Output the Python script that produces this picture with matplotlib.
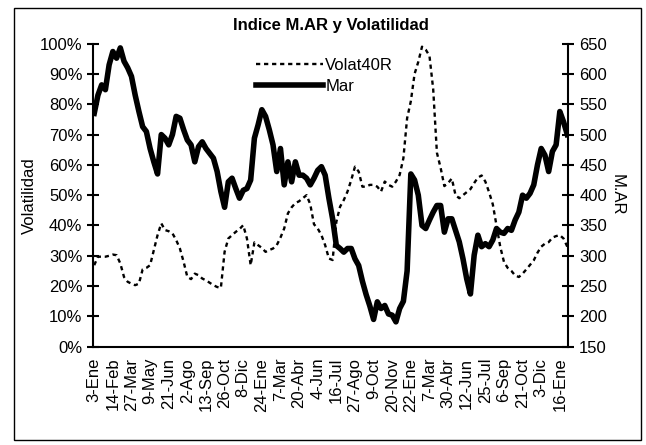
import numpy as np
import matplotlib
matplotlib.use('Agg')
import matplotlib.pyplot as plt
from matplotlib.ticker import PercentFormatter, MultipleLocator
from matplotlib.patches import Rectangle

# weekly-ish samples (every 6 trading days)
volat = [26.9, 29.7, 29.7, 29.7, 30.0, 30.4, 30.2, 27.5, 23.0, 21.4,
         20.8, 20.3, 20.8, 25.5, 26.0, 26.9, 31.9, 36.8, 40.7, 38.5,
         38.1, 37.4, 35.2, 32.4, 28.0, 23.0, 22.3, 24.1, 23.6, 22.5,
         21.9, 21.1, 20.3, 19.7, 19.4, 31.3, 35.7, 36.8, 37.9, 38.8,
         40.1, 35.7, 26.9, 34.4, 33.5, 32.6, 31.3, 31.9, 32.4, 33.5,
         36.0, 39.0, 44.0, 46.0, 47.4, 48.0, 49.0, 50.0, 47.0, 40.4,
         39.0, 36.8, 33.5, 29.1, 28.6, 41.2, 46.2, 48.4, 51.2, 55.0,
         59.4, 57.8, 52.8, 52.8, 53.4, 53.4, 52.8, 51.2, 54.5, 53.4,
         52.8, 54.5, 56.7, 62.2, 75.4, 81.0, 90.0, 94.0, 99.0, 98.0,
         96.0, 85.0, 64.0, 59.0, 53.0, 54.0, 55.5, 50.0, 49.0, 50.0,
         51.0, 52.0, 54.0, 55.8, 56.5, 54.5, 51.0, 47.0, 40.0, 33.0,
         28.0, 26.0, 25.0, 23.5, 23.0, 24.1, 25.5, 27.0, 28.5, 31.0,
         33.0, 34.0, 34.5, 36.0, 36.5, 36.8, 35.7, 33.0]

mar = [535, 565, 582, 574, 615, 637, 626, 643, 621, 610,
       596, 565, 538, 513, 505, 477, 455, 435, 500, 494,
       483, 500, 530, 527, 508, 491, 483, 455, 480, 488,
       477, 469, 461, 439, 406, 380, 422, 428, 411, 395,
       408, 411, 425, 494, 516, 541, 530, 508, 483, 439,
       477, 417, 455, 422, 455, 433, 433, 428, 417, 428,
       441, 447, 433, 395, 361, 317, 312, 306, 312, 312,
       295, 284, 258, 236, 217, 195, 224, 213, 218, 204,
       202, 191, 213, 225, 275, 435, 425, 400, 350, 345,
       359, 372, 383, 383, 339, 361, 361, 342, 323, 295,
       262, 237, 301, 334, 315, 320, 315, 326, 345, 339,
       337, 345, 342, 359, 372, 400, 395, 403, 417, 450,
       477, 466, 439, 472, 483, 538, 521, 500]

date_labels = ['3-Ene', '14-Feb', '27-Mar', '9-May', '21-Jun', '2-Ago', '13-Sep',
               '26-Oct', '8-Dic', '24-Ene', '7-Mar', '20-Abr', '4-Jun', '16-Jul',
               '27-Ago', '9-Oct', '20-Nov', '22-Ene', '7-Mar', '30-Abr', '12-Jun',
               '25-Jul', '6-Sep', '21-Oct', '3-Dic', '16-Ene']
label_step = 5

plt.rcParams['font.family'] = ['Liberation Sans', 'DejaVu Sans']

x = np.arange(len(mar))
vol = np.array(volat) / 100.0

fig = plt.figure(figsize=(6.46, 4.45), dpi=100)
ax = fig.add_axes([0.1447, 0.2209, 0.7346, 0.681])
ax2 = ax.twinx()

l1, = ax.plot(x, vol, color='black', lw=1.7, dashes=(1.8, 1.6), label='Volat40R')
l2, = ax2.plot(x, mar, color='black', lw=4.0, solid_joinstyle='round', label='Mar')

ax.set_xlim(-0.2, len(mar) - 0.8)
ax.set_ylim(0, 1)
ax2.set_ylim(150, 650)
ax.yaxis.set_major_locator(MultipleLocator(0.1))
ax.yaxis.set_major_formatter(PercentFormatter(1.0, decimals=0))
ax2.yaxis.set_major_locator(MultipleLocator(50))

ax.set_xticks(np.arange(len(date_labels)) * label_step)
ax.set_xticklabels(date_labels, rotation=90)

for a in (ax, ax2):
    a.spines['top'].set_visible(False)
    for s in a.spines.values():
        s.set_linewidth(1.5)
ax.spines['right'].set_visible(False)
ax2.spines['left'].set_visible(False)
ax2.spines['bottom'].set_visible(False)

ax.tick_params(axis='y', direction='inout', length=8, width=1.5, labelsize=12, pad=4)
ax2.tick_params(axis='y', direction='inout', length=8, width=1.5, labelsize=12, pad=4)
ax.tick_params(axis='x', length=0, labelsize=12, pad=8)

ax.set_ylabel('Volatilidad', fontsize=12, labelpad=2)
ax2.set_ylabel('M.AR', fontsize=12, rotation=270, va='bottom', labelpad=2)

ax.set_title('Indice M.AR y Volatilidad', fontsize=12, fontweight='bold', pad=10)

leg = ax2.legend([l1, l2], ['Volat40R', 'Mar'], loc='upper left',
                 bbox_to_anchor=(256 / 646, 1 - 58 / 445), bbox_transform=fig.transFigure,
                 frameon=False, fontsize=12, handlelength=4.0, handletextpad=0.15,
                 borderpad=0, borderaxespad=0, labelspacing=0.35)

fig.patches.append(Rectangle((14 / 646, 1 - 440 / 445), 627 / 646, 432 / 445,
                             transform=fig.transFigure, fill=False,
                             edgecolor='black', lw=1.0))

fig.savefig('out.png', dpi=100, facecolor='white')
